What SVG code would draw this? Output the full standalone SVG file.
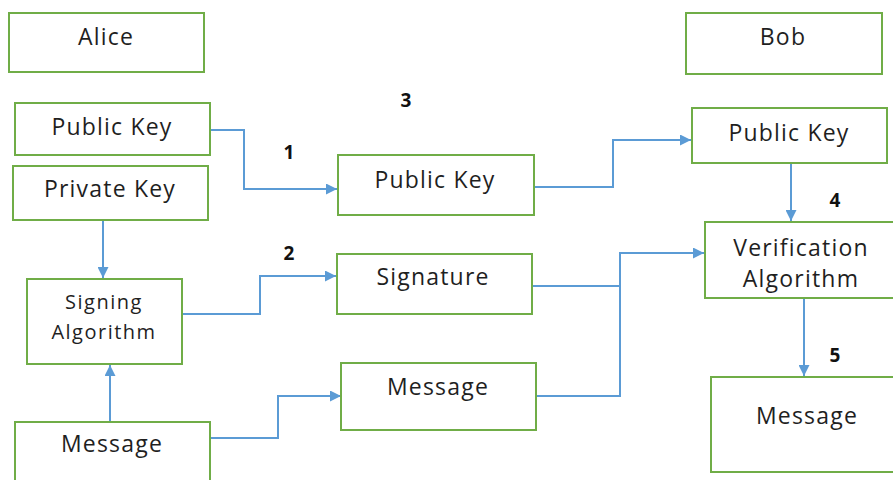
<svg xmlns="http://www.w3.org/2000/svg" width="893" height="480" viewBox="0 0 893 480">
  <style>
    .box { fill: #ffffff; stroke: #70ad47; stroke-width: 2; }
    .lbl { font-family: "Open Sans", "Noto Sans", "Liberation Sans", sans-serif; font-size: 23px; letter-spacing: 1.2px; fill: #1f1f1f; text-anchor: middle; }
    .small { font-size: 20px; letter-spacing: 1.5px; }
    .num { font-family: "Open Sans", "Noto Sans", "Liberation Sans", sans-serif; font-size: 19px; font-weight: bold; fill: #111111; text-anchor: middle; }
    .conn { fill: none; stroke: #5b9bd5; stroke-width: 2; }
  </style>
  <defs>
    <marker id="arrow" viewBox="0 0 10 10" refX="10" refY="5" markerWidth="13" markerHeight="11" markerUnits="userSpaceOnUse" orient="auto">
      <path d="M0,0 L10,5 L0,10 z" fill="#5b9bd5"/>
    </marker>
  </defs>
  <rect width="893" height="480" fill="#ffffff"/>

  <g id="connectors">
    <polyline class="conn" points="210,130 244,130 244,189 337,189" marker-end="url(#arrow)"/>
    <polyline class="conn" points="103,220 103,278" marker-end="url(#arrow)"/>
    <polyline class="conn" points="110,422 110,365" marker-end="url(#arrow)"/>
    <polyline class="conn" points="182,314 260,314 260,276 336,276" marker-end="url(#arrow)"/>
    <polyline class="conn" points="210,438 278,438 278,396 341,396" marker-end="url(#arrow)"/>
    <polyline class="conn" points="534,187 613,187 613,140 691,140" marker-end="url(#arrow)"/>
    <polyline class="conn" points="532,286 620,286"/>
    <polyline class="conn" points="536,396 620,396 620,253 704,253" marker-end="url(#arrow)"/>
    <polyline class="conn" points="791,163 791,221" marker-end="url(#arrow)"/>
    <polyline class="conn" points="804,298 804,376" marker-end="url(#arrow)"/>
  </g>

  <g id="alice">
    <rect class="box" x="9" y="13" width="195" height="59"/>
    <text class="lbl" x="106" y="45">Alice</text>
  </g>
  <g id="alice-public-key">
    <rect class="box" x="15" y="103" width="195" height="52"/>
    <text class="lbl" x="112" y="135">Public Key</text>
  </g>
  <g id="alice-private-key">
    <rect class="box" x="13" y="166" width="195" height="54"/>
    <text class="lbl" x="110" y="197">Private Key</text>
  </g>
  <g id="signing-algorithm">
    <rect class="box" x="27" y="279" width="155" height="85"/>
    <text class="lbl small" x="104" y="309">Signing</text>
    <text class="lbl small" x="104" y="339">Algorithm</text>
  </g>
  <g id="alice-message">
    <rect class="box" x="15" y="422" width="195" height="70"/>
    <text class="lbl" x="112" y="452">Message</text>
  </g>

  <g id="shared-public-key">
    <rect class="box" x="338" y="155" width="196" height="60"/>
    <text class="lbl" x="435" y="188">Public Key</text>
  </g>
  <g id="signature">
    <rect class="box" x="337" y="254" width="195" height="60"/>
    <text class="lbl" x="433" y="285">Signature</text>
  </g>
  <g id="sent-message">
    <rect class="box" x="341" y="363" width="195" height="67"/>
    <text class="lbl" x="438" y="395">Message</text>
  </g>

  <g id="bob">
    <rect class="box" x="686" y="13" width="196" height="61"/>
    <text class="lbl" x="783" y="45">Bob</text>
  </g>
  <g id="bob-public-key">
    <rect class="box" x="692" y="108" width="195" height="55"/>
    <text class="lbl" x="789" y="141">Public Key</text>
  </g>
  <g id="verification-algorithm">
    <rect class="box" x="705" y="222" width="200" height="76"/>
    <text class="lbl" x="801" y="256">Verification</text>
    <text class="lbl" x="801" y="287">Algorithm</text>
  </g>
  <g id="bob-message">
    <rect class="box" x="711" y="377" width="200" height="95"/>
    <text class="lbl" x="807" y="424">Message</text>
  </g>

  <g id="step-numbers">
    <text class="num" x="406" y="107">3</text>
    <text class="num" x="289" y="159">1</text>
    <text class="num" x="289" y="260">2</text>
    <text class="num" x="835" y="207">4</text>
    <text class="num" x="835" y="362">5</text>
  </g>
</svg>
